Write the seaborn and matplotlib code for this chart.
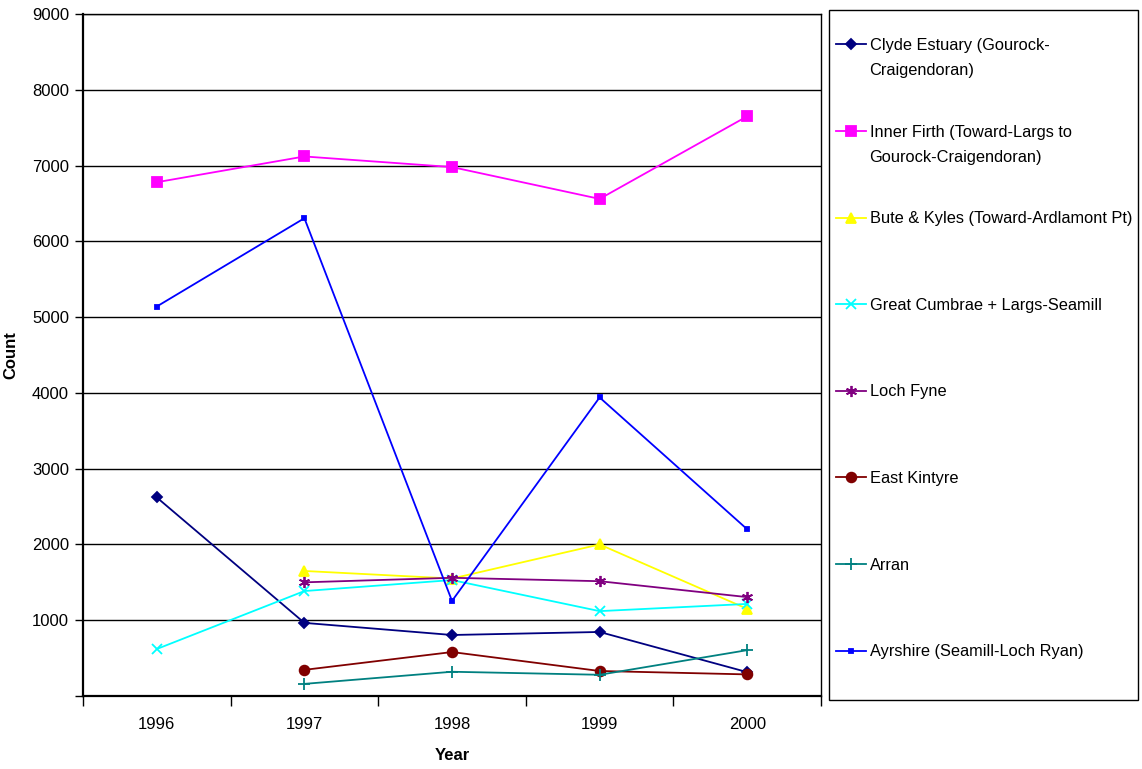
import numpy as np
import pandas as pd
import matplotlib
matplotlib.use('Agg')
import matplotlib.pyplot as plt
from matplotlib.patches import Rectangle
import seaborn as sns

nan = np.nan
years = [1996, 1997, 1998, 1999, 2000]
clyde = [2620, 965, 805, 845, 315]
inner_firth = [6780, 7120, 6980, 6560, 7650]
bute = [nan, 1650, 1550, 2000, 1150]
cumbrae = [620, 1385, 1530, 1120, 1215]
loch_fyne = [nan, 1500, 1560, 1515, 1305]
east_kintyre = [nan, 345, 580, 330, 285]
arran = [nan, 160, 320, 280, 605]
ayrshire = [5140, 6305, 1255, 3940, 2200]

# legend labels; Excel wraps the two long ones onto a second line
names = ['Clyde Estuary (Gourock-',
         'Inner Firth (Toward-Largs to',
         'Bute & Kyles (Toward-Ardlamont Pt)',
         'Great Cumbrae + Largs-Seamill',
         'Loch Fyne',
         'East Kintyre',
         'Arran',
         'Ayrshire (Seamill-Loch Ryan)']
wrapped = {0: 'Craigendoran)', 1: 'Gourock-Craigendoran)'}
series = [clyde, inner_firth, bute, cumbrae, loch_fyne, east_kintyre, arran, ayrshire]
colors = ['#000080', '#FF00FF', '#FFFF00', '#00FFFF', '#800080', '#800000', '#008080', '#0000FF']
markers = ['D', 's', '^', 'x', (6, 2, 0), 'o', '+', 's']
msizes = [5, 7, 7, 7, 8, 7, 8, 2.5]

plt.rcParams['font.family'] = ['Liberation Sans', 'DejaVu Sans']
plt.rcParams['font.size'] = 12

fig = plt.figure(figsize=(11.42, 7.69), dpi=100)
ax = fig.add_axes([83/1142, 1-696/769, (821-83)/1142, (696-14)/769])

for name, vals, c, m, ms in zip(names, series, colors, markers, msizes):
    df = pd.DataFrame({'Year': years, 'Count': vals}).dropna()
    sns.lineplot(data=df, x='Year', y='Count', ax=ax, color=c, marker=m,
                 markersize=ms, markeredgecolor=c, markerfacecolor=c,
                 markeredgewidth=1.3, linewidth=1.3, label=name)

ax.set_xlim(1995.5, 2000.5)
ax.set_ylim(0, 9000)
ax.set_xticks(years)
ax.set_xticks(np.arange(1995.5, 2001, 1), minor=True)
ax.tick_params(axis='x', which='major', length=0, pad=15)
ax.tick_params(axis='x', which='minor', length=7, width=1, direction='out')
ax.set_yticks(np.arange(0, 9001, 1000))
ax.set_yticklabels([''] + [str(v) for v in range(1000, 9001, 1000)])
ax.tick_params(axis='y', length=6, width=1, direction='out', pad=4)
ax.yaxis.grid(True, color='black', linewidth=1)
ax.set_axisbelow(True)
for s in ax.spines.values():
    s.set_color('black')
    s.set_linewidth(1)
ax.spines['left'].set_linewidth(1.6)
ax.spines['bottom'].set_linewidth(1.6)
ax.set_xlabel('Year', fontweight='bold', labelpad=12)
ax.set_ylabel('Count', fontweight='bold', labelpad=10)

handles, labels = ax.get_legend_handles_labels()
ax.get_legend().remove()
fig.patches.append(Rectangle((829/1142, 1-700/769), (1138-829)/1142, 690/769,
                             transform=fig.transFigure, fill=False,
                             edgecolor='black', linewidth=1))
leg = fig.legend(handles, labels, loc='upper left',
                 bbox_to_anchor=(836/1142, 1-38/769),
                 borderaxespad=0, borderpad=0, frameon=False,
                 labelspacing=4.37, handlelength=1.83,
                 handletextpad=0.25, fontsize=11.8)
# second lines of the wrapped legend labels (drawn after the legend)
for i, extra in wrapped.items():
    ann = plt.Annotation(extra, xy=(0, 0), xycoords=leg.get_texts()[i],
                         xytext=(-1, -25), textcoords='offset pixels',
                         va='bottom', ha='left', fontsize=11.8)
    ann.set_zorder(10)
    fig.add_artist(ann)

fig.savefig('out.png', dpi=100)
